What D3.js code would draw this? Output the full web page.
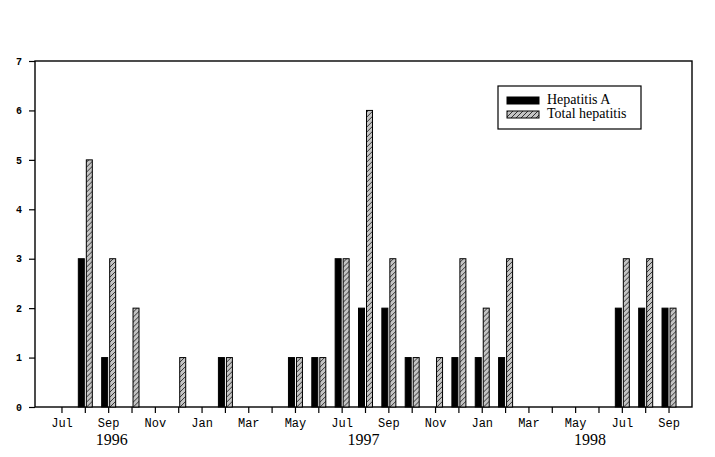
<!DOCTYPE html>
<html>
<head>
<meta charset="utf-8">
<script src="https://cdn.jsdelivr.net/npm/d3@7/dist/d3.min.js"></script>
<style>
  body { margin: 0; background: #fff; }
  svg { display: block; }
</style>
</head>
<body>
<div id="chart"></div>
<script>
// Monthly counts, Jul 1996 .. Sep 1998
const months = [
  "Jul 1996", "Aug 1996", "Sep 1996", "Oct 1996", "Nov 1996", "Dec 1996",
  "Jan 1997", "Feb 1997", "Mar 1997", "Apr 1997", "May 1997", "Jun 1997",
  "Jul 1997", "Aug 1997", "Sep 1997", "Oct 1997", "Nov 1997", "Dec 1997",
  "Jan 1998", "Feb 1998", "Mar 1998", "Apr 1998", "May 1998", "Jun 1998",
  "Jul 1998", "Aug 1998", "Sep 1998"
];
const hepatitisA = [0, 3, 1, 0, 0, 0, 0, 1, 0, 0, 1, 1, 3, 2, 2, 1, 0, 1, 1, 1, 0, 0, 0, 0, 2, 2, 2];
const totalHepatitis = [0, 5, 3, 2, 0, 1, 0, 1, 0, 0, 1, 1, 3, 6, 3, 1, 1, 3, 2, 3, 0, 0, 0, 0, 3, 3, 2];
const seriesNames = ["Hepatitis A", "Total hepatitis"];
const yTicks = [0, 1, 2, 3, 4, 5, 6, 7];
const yearLabels = ["1996", "1997", "1998"];
const yearAnchors = ["Sep 1996", "Aug 1997", "Jun 1998"];

const width = 715, height = 457;
const frame = { left: 35, right: 692, top: 61, bottom: 407 };

const svg = d3.select("#chart").append("svg")
  .attr("width", width)
  .attr("height", height);

// hatch pattern for total hepatitis
const defs = svg.append("defs");
const pat = defs.append("pattern")
  .attr("id", "hatch")
  .attr("patternUnits", "userSpaceOnUse")
  .attr("width", 5)
  .attr("height", 5);
pat.append("rect").attr("width", 5).attr("height", 5).attr("fill", "#c4c4c4");
pat.append("path")
  .attr("d", "M-1,1 l2,-2 M0,5 l5,-5 M4,6 l2,-2")
  .attr("stroke", "#222")
  .attr("stroke-width", 0.9);

const x = d3.scaleBand()
  .domain(months)
  .range([50.3, 680.7]);

const y = d3.scaleLinear()
  .domain([0, 7])
  .range([frame.bottom, frame.top]);

// inner scale for the two bars in a month
const x1 = d3.scaleBand()
  .domain(seriesNames)
  .range([x.bandwidth() / 2 - 7, x.bandwidth() / 2 + 7])
  .paddingInner(0.25);

// frame
svg.append("rect")
  .attr("x", frame.left)
  .attr("y", frame.top)
  .attr("width", frame.right - frame.left)
  .attr("height", frame.bottom - frame.top)
  .attr("fill", "none")
  .attr("stroke", "#000")
  .attr("stroke-width", 1.4);

// y axis
const yAxis = svg.append("g")
  .attr("transform", `translate(${frame.left},0)`)
  .call(d3.axisLeft(y).tickValues(yTicks).tickFormat(d3.format("d")).tickSize(6).tickPadding(7));
yAxis.select(".domain").remove();
yAxis.selectAll("line").attr("stroke", "#000").attr("stroke-width", 1.2);
yAxis.selectAll("text")
  .style("font-family", "'Liberation Mono', monospace")
  .style("font-size", "10px")
  .style("font-weight", "bold")
  .attr("fill", "#000");

// x axis
const xAxis = svg.append("g")
  .attr("transform", `translate(0,${frame.bottom})`)
  .call(d3.axisBottom(x)
    .tickSize(6)
    .tickPadding(5)
    .tickFormat((d, i) => (i % 2 === 0 ? d.slice(0, 3) : "")));
xAxis.select(".domain").remove();
xAxis.selectAll("line").attr("stroke", "#000").attr("stroke-width", 1.2);
xAxis.selectAll("text")
  .style("font-family", "'Liberation Mono', monospace")
  .style("font-size", "12px")
  .attr("fill", "#000");

// year labels
const yearOffsets = [3, -2, -9];
svg.selectAll(".year")
  .data(yearLabels)
  .join("text")
  .attr("class", "year")
  .attr("x", (d, i) => x(yearAnchors[i]) + x.bandwidth() / 2 + yearOffsets[i])
  .attr("y", 445)
  .attr("text-anchor", "middle")
  .style("font-family", "'Liberation Serif', serif")
  .style("font-size", "16px")
  .text((d) => d);

// bars
const rows = months.map((m, i) => ({ month: m, values: [hepatitisA[i], totalHepatitis[i]] }));

const groups = svg.append("g").selectAll("g")
  .data(rows)
  .join("g")
  .attr("transform", (d) => `translate(${x(d.month)},0)`);

groups.selectAll("rect")
  .data((d) => d.values.map((v, k) => ({ key: seriesNames[k], value: v })).filter((b) => b.value > 0))
  .join("rect")
  .attr("x", (b) => x1(b.key))
  .attr("y", (b) => y(b.value))
  .attr("width", x1.bandwidth())
  .attr("height", (b) => y(0) - y(b.value))
  .attr("fill", (b) => (b.key === "Hepatitis A" ? "#000" : "url(#hatch)"))
  .attr("stroke", "#000")
  .attr("stroke-width", 1);

// legend
const legend = svg.append("g").attr("transform", "translate(498,86)");
legend.append("rect")
  .attr("width", 143)
  .attr("height", 43)
  .attr("fill", "#fff")
  .attr("stroke", "#000")
  .attr("stroke-width", 1.2);

seriesNames.forEach((name, i) => {
  legend.append("rect")
    .attr("x", 9)
    .attr("y", 11 + i * 14)
    .attr("width", 32)
    .attr("height", 7)
    .attr("fill", i === 0 ? "#000" : "url(#hatch)")
    .attr("stroke", "#000")
    .attr("stroke-width", 1);
  legend.append("text")
    .attr("x", 49)
    .attr("y", 18 + i * 14)
    .style("font-family", "'Liberation Serif', serif")
    .style("font-size", "14px")
    .text(name);
});
</script>
</body>
</html>
